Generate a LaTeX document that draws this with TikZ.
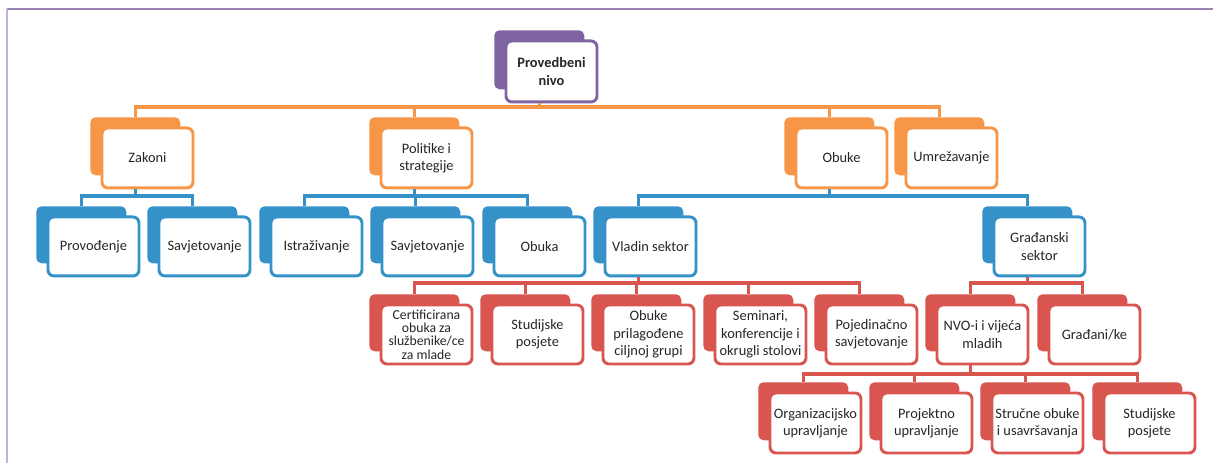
\documentclass[tikz,border=0pt]{standalone}
\usepackage{fontspec}
\setmainfont{Carlito}
\definecolor{cor}{HTML}{F79646}
\definecolor{cbl}{HTML}{3592C8}
\definecolor{cre}{HTML}{D95550}
\definecolor{cpu}{HTML}{8064A2}
\definecolor{ctx}{HTML}{262626}
\tikzset{
  backbox/.style={rectangle, rounded corners=4pt, anchor=north west, inner sep=0pt, draw=none},
  frontbox/.style={rectangle, rounded corners=4.5pt, anchor=north west, inner sep=0pt, fill=white, line width=2.2pt, align=center, text=ctx, font=\fontsize{10.8}{13}\selectfont},
  tightbox/.style={font=\fontsize{10.3}{10}\selectfont},
  conn/.style={line width=2.3pt},
}
\newcommand\bx[8][]{%
  \node[backbox, fill=#7, minimum width={(#5-4)*0.75pt}, minimum height={(#6-5)*0.75pt}] (#2-b) at (#3-9,#4-8) {};
  \node[frontbox, #1, draw=#7, minimum width={(#5-3)*0.75pt}, minimum height={(#6-3)*0.75pt}] (#2) at (#3+1.5,#4+1.5) {#8};
}
\begin{document}
\begin{tikzpicture}[x=0.75pt,y=-0.75pt]
\useasboundingbox (0,0) rectangle (1213,463);
\fill[white] (0,0) rectangle (1213,463);
\draw[line width=1.2pt, cpu!80] (7,9) -- (1213,9);
\draw[line width=1.2pt, cpu!50] (7,9) -- (7,463);
% root
\bx[font=\fontsize{10.8}{13}\selectfont\bfseries]{root}{503}{38}{94}{64}{cpu}{Provedbeni\\nivo}
% level 1
\bx{zak}{99}{125}{94}{63}{cor}{Zakoni}
\bx{pol}{378}{125}{94}{63}{cor}{Politike i\\strategije}
\bx{obu}{793}{125}{94}{63}{cor}{Obuke}
\bx{umr}{903}{125}{94}{63}{cor}{Umrežavanje}
% level 2
\bx{pro}{45}{214}{94}{62}{cbl}{Provođenje}
\bx{sava}{156}{214}{94}{62}{cbl}{Savjetovanje}
\bx{ist}{268}{214}{94}{62}{cbl}{Istraživanje}
\bx{savb}{379}{214}{94}{62}{cbl}{Savjetovanje}
\bx{obk}{491}{214}{94}{62}{cbl}{Obuka}
\bx{vla}{602}{214}{94}{62}{cbl}{Vladin sektor}
\bx{gra}{991}{214}{94}{62}{cbl}{Građanski\\sektor}
% level 3
\bx[tightbox]{cer}{378}{302}{94}{62}{cre}{Certificirana\\obuka za\\službenike/ce\\za mlade}
\bx{stu}{489}{302}{94}{62}{cre}{Studijske\\posjete}
\bx{obp}{600}{302}{94}{62}{cre}{Obuke\\prilagođene\\ciljnoj grupi}
\bx{sem}{712}{302}{94}{62}{cre}{Seminari,\\konferencije i\\okrugli stolovi}
\bx{poj}{823}{302}{94}{62}{cre}{Pojedinačno\\savjetovanje}
\bx{nvo}{934}{302}{94}{62}{cre}{NVO-i i vijeća\\mladih}
\bx{grk}{1046}{302}{94}{62}{cre}{Građani/ke}
% level 4
\bx{org}{767}{390}{94}{63}{cre}{Organizacijsko\\upravljanje}
\bx{prj}{878}{390}{94}{63}{cre}{Projektno\\upravljanje}
\bx{str}{989}{390}{94}{63}{cre}{Stručne obuke\\i usavršavanja}
\bx{stb}{1101}{390}{94}{63}{cre}{Studijske\\posjete}
% connectors: orange
\draw[conn, cor] (root-b.north |- root.south) -- (root-b.north |- 0,107);
\draw[conn, cor] (zak-b.north) |- (umr-b.north |- 0,107) -- (umr-b.north);
\draw[conn, cor] (pol-b.north) -- (pol-b.north |- 0,107);
\draw[conn, cor] (obu-b.north) -- (obu-b.north |- 0,107);
% blue
\draw[conn, cbl] (zak-b.north |- zak.south) -- (zak-b.north |- 0,196);
\draw[conn, cbl] (pro-b.north) |- (sava-b.north |- 0,196) -- (sava-b.north);
\draw[conn, cbl] (pol-b.north |- pol.south) -- (pol-b.north |- 0,196);
\draw[conn, cbl] (ist-b.north) |- (obk-b.north |- 0,196) -- (obk-b.north);
\draw[conn, cbl] (savb-b.north) -- (savb-b.north |- 0,196);
\draw[conn, cbl] (obu-b.north |- obu.south) -- (obu-b.north |- 0,196);
\draw[conn, cbl] (vla-b.north) |- (gra-b.north |- 0,196) -- (gra-b.north);
% red
\draw[conn, cre] (vla-b.north |- vla.south) -- (vla-b.north |- 0,283);
\draw[conn, cre] (cer-b.north) |- (poj-b.north |- 0,283) -- (poj-b.north);
\draw[conn, cre] (stu-b.north) -- (stu-b.north |- 0,283);
\draw[conn, cre] (obp-b.north) -- (obp-b.north |- 0,283);
\draw[conn, cre] (sem-b.north) -- (sem-b.north |- 0,283);
\draw[conn, cre] (gra-b.north |- gra.south) -- (gra-b.north |- 0,283);
\draw[conn, cre] (nvo-b.north) |- (grk-b.north |- 0,283) -- (grk-b.north);
\draw[conn, cre] (nvo-b.north |- nvo.south) -- (nvo-b.north |- 0,374);
\draw[conn, cre] (org-b.north) |- (stb-b.north |- 0,374) -- (stb-b.north);
\draw[conn, cre] (prj-b.north) -- (prj-b.north |- 0,374);
\draw[conn, cre] (str-b.north) -- (str-b.north |- 0,374);
\end{tikzpicture}
\end{document}
